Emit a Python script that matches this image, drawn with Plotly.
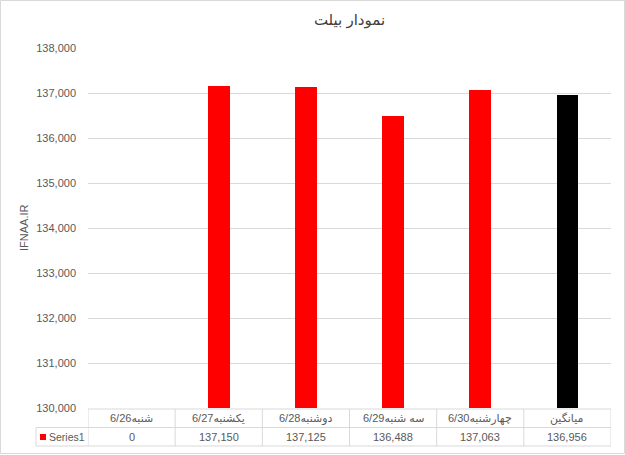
import plotly.graph_objects as go

# ---- data ----
categories = ["شنبه6/26", "یکشنبه6/27", "دوشنبه6/28", "سه شنبه6/29", "چهارشنبه6/30", "میانگین"]
values = [0, 137150, 137125, 136488, 137063, 136956]
bar_colors = ["#ff0000", "#ff0000", "#ff0000", "#ff0000", "#ff0000", "#000000"]
series_name = "Series1"
title_text = "نمودار بیلت"
y_title = "IFNAA.IR"
y_min, y_max, y_step = 130000, 138000, 1000

# ---- layout geometry (pixels) ----
W, H = 625, 455
L, R, T, B = 88, 14, 48, 47
PW, PH = W - L - R, H - T - B

def px(x):  # pixel x -> paper x
    return (x - L) / PW

def py(y):  # pixel y -> paper y
    return (H - B - y) / PH

FONT = "Liberation Sans, DejaVu Sans, Arial, sans-serif"
GRID = "#d9d9d9"
TXT = "#595959"

xs = list(range(len(categories)))
fig = go.Figure()
fig.add_trace(go.Bar(x=xs, y=values, marker=dict(color=bar_colors, line=dict(width=0)),
                     width=0.25, name=series_name, showlegend=False, hoverinfo="skip"))

shapes = []
annotations = []
n = len(categories)
row1_top, row1_bot, row2_bot = 409, 427.5, 446
# horizontal lines
shapes.append(dict(type="line", xref="x", yref="paper", x0=-0.5, x1=n - 0.5,
                   y0=py(row1_top), y1=py(row1_top), line=dict(color=GRID, width=1)))
shapes.append(dict(type="line", xref="paper", yref="paper", x0=px(36), x1=1,
                   y0=py(row1_bot), y1=py(row1_bot), line=dict(color=GRID, width=1)))
shapes.append(dict(type="line", xref="paper", yref="paper", x0=px(36), x1=1,
                   y0=py(row2_bot), y1=py(row2_bot), line=dict(color=GRID, width=1)))
# vertical lines
for i in range(n + 1):
    shapes.append(dict(type="line", xref="x", yref="paper", x0=i - 0.5, x1=i - 0.5,
                       y0=py(row1_top), y1=py(row2_bot), line=dict(color=GRID, width=1)))
shapes.append(dict(type="line", xref="paper", yref="paper", x0=px(36), x1=px(36),
                   y0=py(row1_bot), y1=py(row2_bot), line=dict(color=GRID, width=1)))
# legend key square
shapes.append(dict(type="rect", xref="paper", yref="paper", x0=px(40), x1=px(46),
                   y0=py(440), y1=py(434), fillcolor="#ff0000", line=dict(width=0)))
# outer chart border
shapes.append(dict(type="rect", xref="paper", yref="paper", x0=px(0.5), x1=px(W - 0.5),
                   y0=py(H - 1.5), y1=py(0.5), line=dict(color=GRID, width=1)))

for i, c in enumerate(categories):
    annotations.append(dict(x=i, y=py((row1_top + row1_bot) / 2), xref="x", yref="paper",
                            text=c, showarrow=False, font=dict(family=FONT, size=11, color=TXT),
                            xanchor="center", yanchor="middle"))
    annotations.append(dict(x=i, y=py((row1_bot + row2_bot) / 2), xref="x", yref="paper",
                            text=f"{values[i]:,}", showarrow=False,
                            font=dict(family=FONT, size=11, color=TXT),
                            xanchor="center", yanchor="middle"))
annotations.append(dict(x=px(47), y=py((row1_bot + row2_bot) / 2), xref="paper", yref="paper",
                        text=series_name, showarrow=False, font=dict(family=FONT, size=10.5, color=TXT),
                        xanchor="left", yanchor="middle"))
annotations.append(dict(x=px(24), y=py(228), xref="paper", yref="paper", text=y_title,
                        textangle=-90, showarrow=False, font=dict(family=FONT, size=11, color=TXT),
                        xanchor="center", yanchor="middle"))

fig.update_layout(
    width=W, height=H,
    margin=dict(l=L, r=R, t=T, b=B, autoexpand=False),
    paper_bgcolor="white", plot_bgcolor="white",
    title=dict(text=title_text, x=0.5, xref="paper", xanchor="center", y=1 - 20 / H, yanchor="middle",
               font=dict(family=FONT, size=15, color="#404040")),
    xaxis=dict(range=[-0.5, n - 0.5], showticklabels=False, showgrid=False, zeroline=False,
               showline=False, ticks="", fixedrange=True),
    yaxis=dict(range=[y_min, y_max], dtick=y_step, tickformat=",", showgrid=True, gridcolor=GRID,
               gridwidth=1, zeroline=False, showline=False, ticks="", ticklabelstandoff=11,
               tickfont=dict(family=FONT, size=11, color=TXT), fixedrange=True),
    shapes=shapes, annotations=annotations, showlegend=False, bargap=0,
)
fig.write_html("out.html", config={"displayModeBar": False},
               post_script="document.body.style.margin='0px';document.body.style.padding='0px';")
